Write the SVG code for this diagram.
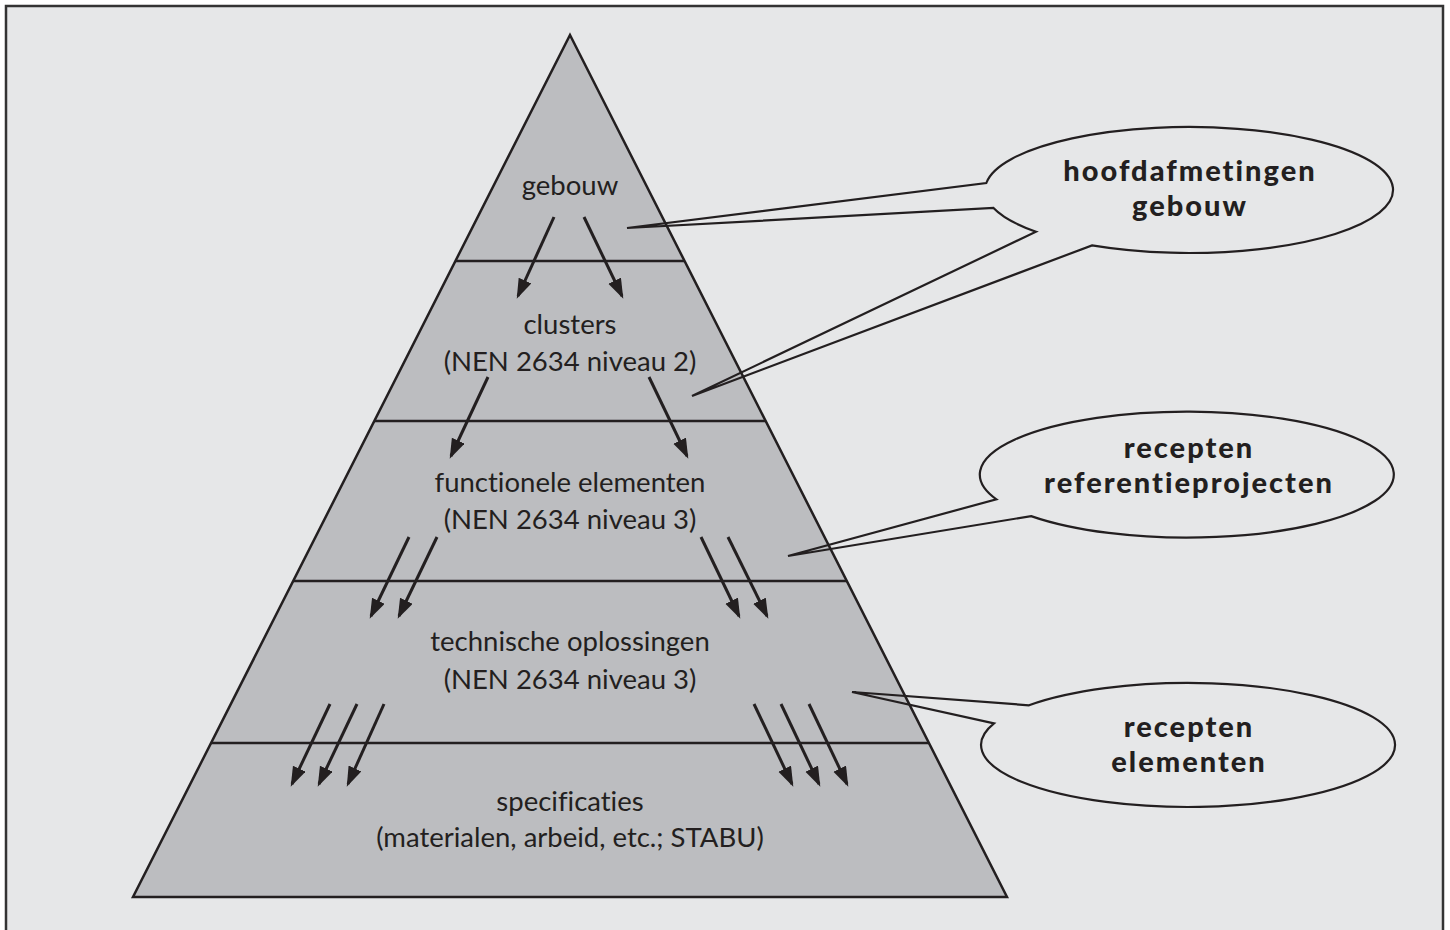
<svg xmlns="http://www.w3.org/2000/svg" width="1450" height="930" viewBox="0 0 1450 930">
<style>
.frame{fill:#e6e7e8;stroke:#333;stroke-width:2.5}
.pyr{fill:#bcbdc0;stroke:#231f20;stroke-width:2.5;stroke-linejoin:miter}
.band{stroke:#231f20;stroke-width:2.5}
.lbl{font-family:Lato,"Liberation Sans",sans-serif;font-size:27.5px;fill:#231f20;text-anchor:middle;font-variant-ligatures:none}
.cl{font-family:Lato,"Liberation Sans",sans-serif;font-size:29px;font-weight:900;letter-spacing:2px;fill:#231f20;text-anchor:middle;font-variant-ligatures:none}
.efill{fill:#e6e7e8;stroke:none}
.eline{fill:none;stroke:#231f20;stroke-width:2.2;stroke-linejoin:miter}
.arr{stroke:#231f20;stroke-width:3;fill:none;marker-end:url(#ah)}
</style>
<defs>
<marker id="ah" markerUnits="userSpaceOnUse" markerWidth="22" markerHeight="16" refX="17" refY="7" orient="auto">
<path d="M0,0 L20,7 L0,14 z" fill="#231f20"/>
</marker>
</defs>
<rect x="6" y="6" width="1437" height="1000" class="frame"/>
<g id="pyramid">
<polygon class="pyr" points="570,35 1007,897 133,897"/>
<line class="band" x1="455" y1="261" x2="685" y2="261"/>
<line class="band" x1="374" y1="421" x2="766" y2="421"/>
<line class="band" x1="293" y1="581" x2="847" y2="581"/>
<line class="band" x1="211" y1="743" x2="929" y2="743"/>
</g>
<g id="level-gebouw"><text class="lbl" x="570" y="195">gebouw</text></g>
<g id="level-clusters"><text class="lbl" x="570" y="334">clusters</text><text class="lbl" x="570" y="371">(NEN 2634 niveau 2)</text></g>
<g id="level-functionele"><text class="lbl" x="570" y="492">functionele elementen</text><text class="lbl" x="570" y="529">(NEN 2634 niveau 3)</text></g>
<g id="level-technische"><text class="lbl" x="570" y="651">technische oplossingen</text><text class="lbl" x="570" y="689">(NEN 2634 niveau 3)</text></g>
<g id="level-specificaties"><text class="lbl" x="570" y="811">specificaties</text><text class="lbl" x="570" y="847">(materialen, arbeid, etc.; STABU)</text></g>
<g id="connectors">
<line class="arr" x1="554" y1="217" x2="518" y2="296"/>
<line class="arr" x1="584" y1="217" x2="622" y2="296"/>
<line class="arr" x1="488" y1="377" x2="451" y2="456"/>
<line class="arr" x1="649" y1="377" x2="687" y2="456"/>
<line class="arr" x1="409" y1="537" x2="371" y2="616"/>
<line class="arr" x1="437" y1="537" x2="399" y2="616"/>
<line class="arr" x1="701" y1="537" x2="739" y2="616"/>
<line class="arr" x1="728" y1="537" x2="767" y2="616"/>
<line class="arr" x1="330" y1="704" x2="292" y2="784"/>
<line class="arr" x1="357" y1="704" x2="319" y2="784"/>
<line class="arr" x1="384" y1="704" x2="348" y2="784"/>
<line class="arr" x1="754" y1="704" x2="792" y2="784"/>
<line class="arr" x1="781" y1="704" x2="819" y2="784"/>
<line class="arr" x1="809" y1="704" x2="847" y2="784"/>
</g>
<g id="callout-hoofdafmetingen">
<ellipse class="efill" cx="1189" cy="190" rx="204" ry="63"/>
<path class="eline" d="M986.3,183 A204,63 0 1 1 1092,245.4 L692,396 L1036,231.7 A204,63 0 0 1 993.5,208 L627,228 Z"/>
<text class="cl" x="1190" y="181">hoofdafmetingen</text>
<text class="cl" x="1190" y="216">gebouw</text>
</g>
<g id="callout-referentieprojecten">
<ellipse class="efill" cx="1188" cy="475" rx="207" ry="63"/>
<path class="eline" d="M996.4,499.3 A207,63 0 1 1 1031.1,516.1 L788,556 Z"/>
<text class="cl" x="1189" y="458">recepten</text>
<text class="cl" x="1189" y="493">referentieprojecten</text>
</g>
<g id="callout-elementen">
<ellipse class="efill" cx="1188" cy="745" rx="207" ry="62"/>
<path class="eline" d="M1029,705.3 A207,62 0 1 1 994,723.4 L852,692 Z"/>
<text class="cl" x="1189" y="737">recepten</text>
<text class="cl" x="1189" y="772">elementen</text>
</g>
</svg>
